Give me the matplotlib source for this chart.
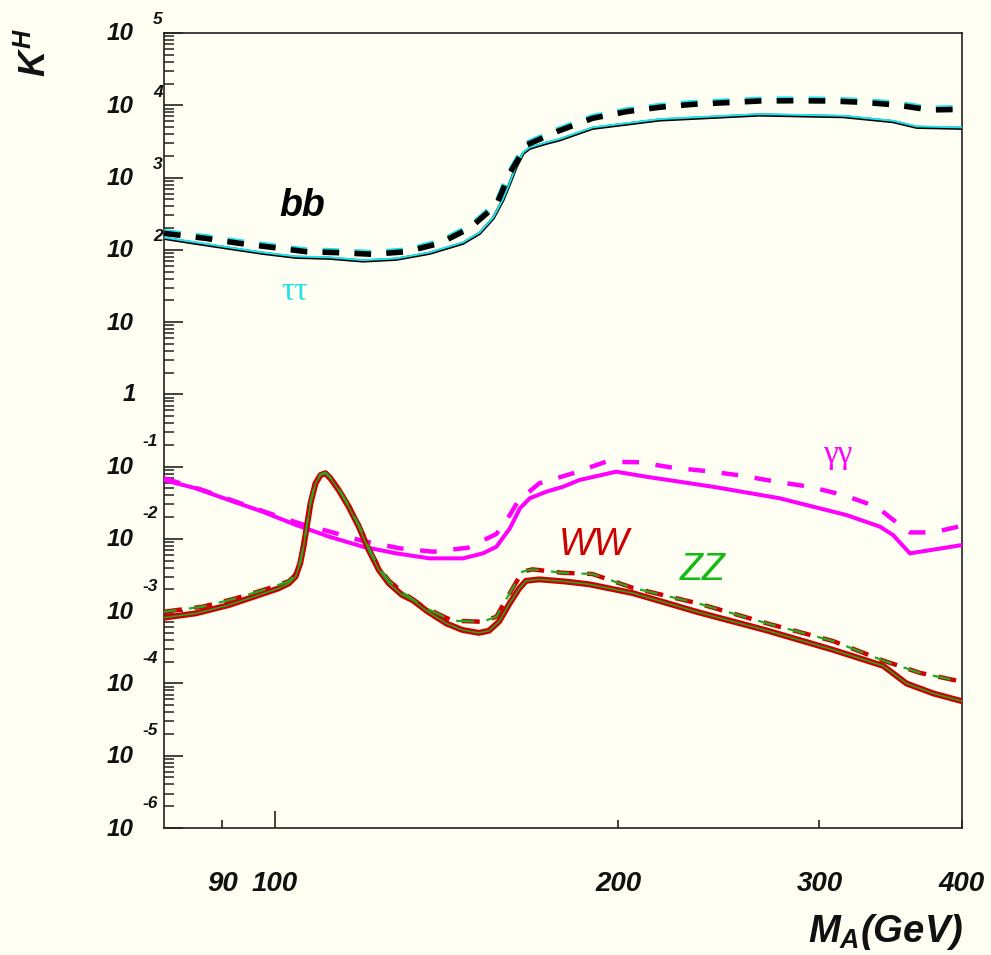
import matplotlib
matplotlib.use("Agg")
import matplotlib.pyplot as plt
from matplotlib.ticker import FixedLocator, FixedFormatter, LogLocator, NullFormatter

plt.rcParams['font.family'] = ['Liberation Sans', 'DejaVu Sans']
plt.rcParams['lines.scale_dashes'] = False
plt.rcParams['lines.solid_joinstyle'] = 'round'
plt.rcParams['lines.dash_joinstyle'] = 'round'
plt.rcParams['mathtext.fontset'] = 'custom'
plt.rcParams['mathtext.it'] = 'Liberation Sans:italic:bold'
plt.rcParams['mathtext.rm'] = 'Liberation Sans:italic:bold'
plt.rcParams['mathtext.bf'] = 'Liberation Sans:italic:bold'

# ---------------- data ----------------
# bb / tau tau, solid
mA_bb = [80, 85.3, 91.2, 97.6, 104.4, 111.7, 119.5, 127.8, 136.7, 146.2, 151.2, 155.4,
         158.5, 160.7, 162.8, 165.1, 167.3, 173.0, 177.5, 189.9, 217.3, 265.9, 314.8,
         348.1, 365.0, 400]
k_bb = [144, 123, 105, 89.5, 78.7, 76.4, 70.0, 74.0, 89.5, 123, 169, 273,
        489, 832, 1413, 2168, 2541, 2979, 3304, 4797, 6252, 7328, 6950,
        5929, 4955, 4797]
k_tautau = [148, 127, 108, 92, 81, 78.7, 72, 76, 92, 127, 174, 281,
            504, 857, 1455, 2233, 2617, 3068, 3403, 4941, 6440, 7548, 7158,
            6107, 5104, 4941]
# bb / tau tau, dashed
mA_bb_d = [80, 87.0, 93.1, 99.6, 106.5, 114.0, 121.9, 130.4, 139.5, 148.2, 156.4, 160.7,
           166.2, 177.0, 189.9, 203.2, 217.3, 232.4, 248.6, 265.9, 286.4, 306.3, 327.6,
           350.5, 374.9, 400]
k_bb_d = [169, 144, 123, 108, 94.2, 91.2, 86.7, 94.2, 123, 199, 417, 1146,
          2818, 4365, 6607, 8147, 9376, 10300, 10860, 11460, 11560, 11460, 10990,
          10090, 8610, 8790]
k_tautau_d = [177, 151, 129, 113, 98.6, 95.5, 90.8, 98.6, 129, 208, 437, 1200,
              2951, 4571, 6918, 8531, 9817, 10790, 11370, 12000, 12100, 12000, 11510,
              10570, 9016, 9204]

# gamma gamma
mA_gg = [80, 85.3, 91.2, 97.6, 104.4, 111.7, 119.5, 127.8, 136.7, 146.2, 152.2, 156.4,
         160.7, 164.0, 167.3, 173.0, 178.9, 184.9, 199.1, 211.5, 242.0, 276.9, 316.8,
         338.9, 348.1, 360.1, 400]
k_gg = [0.0653, 0.0501, 0.0345, 0.0238, 0.0156, 0.0107, 0.00780, 0.00631, 0.00538,
        0.00538, 0.00631, 0.00780, 0.0140, 0.0265, 0.0365, 0.0450, 0.0527, 0.0653,
        0.0851, 0.0726, 0.0527, 0.0365, 0.0214, 0.0148, 0.0113, 0.00631, 0.00822]
mA_gg_d = [80, 86.5, 92.5, 98.9, 105.1, 112.4, 119.5, 128.7, 137.6, 147.7, 156.4, 160.7,
           163.5, 170.5, 182.4, 195.1, 208.7, 223.3, 238.8, 257.1, 275.0, 294.2, 314.8,
           336.6, 352.8, 360.1, 377.5, 400]
k_gg_d = [0.0689, 0.0474, 0.0327, 0.0226, 0.0164, 0.0123, 0.00935, 0.00741, 0.00665,
          0.00755, 0.0117, 0.0214, 0.0339, 0.0587, 0.0807, 0.117, 0.115, 0.0966, 0.0869,
          0.0748, 0.0618, 0.0527, 0.0405, 0.0279, 0.0156, 0.0123, 0.0123, 0.0152]

# WW / ZZ, solid
mA_vv = [80, 85.3, 91.2, 98.8, 100.8, 102.9, 104.3, 105.3, 106.0, 106.7, 107.5, 108.6,
         109.7, 110.8, 111.9, 113.8, 116.1, 118.5, 120.9, 123.4, 125.9, 129.3, 132.2,
         136.0, 141.4, 146.0, 151.0, 154.1, 157.3, 160.5, 163.7, 166.0, 170.5, 179.9,
         188.6, 205.9, 235.6, 269.6, 308.4, 341.2, 357.7, 377.5, 400]
k_ww = [8.13e-4, 9.33e-4, 1.216e-3, 1.858e-3, 2.070e-3, 2.427e-3, 2.999e-3, 4.592e-3,
        7.80e-3, 0.01476, 0.03105, 0.05875, 0.0766, 0.0807, 0.0689, 0.0474, 0.0279,
        0.01476, 7.01e-3, 3.71e-3, 2.427e-3, 1.675e-3, 1.41e-3, 1.0e-3, 6.76e-4,
        5.50e-4, 5.01e-4, 5.37e-4, 7.24e-4, 1.259e-3, 2.042e-3, 2.63e-3, 2.754e-3,
        2.57e-3, 2.355e-3, 1.778e-3, 9.55e-4, 5.43e-4, 2.917e-4, 1.754e-4, 9.98e-5,
        7.28e-5, 5.68e-5]
k_zz = [8.13e-4, 9.33e-4, 1.216e-3, 1.858e-3, 2.070e-3, 2.427e-3, 2.999e-3, 4.592e-3,
        7.80e-3, 0.01476, 0.03105, 0.05875, 0.0766, 0.0807, 0.0689, 0.0474, 0.0279,
        0.01476, 7.01e-3, 3.71e-3, 2.427e-3, 1.675e-3, 1.41e-3, 1.0e-3, 6.76e-4,
        5.50e-4, 5.01e-4, 5.37e-4, 7.24e-4, 1.259e-3, 2.042e-3, 2.63e-3, 2.754e-3,
        2.57e-3, 2.355e-3, 1.778e-3, 9.55e-4, 5.43e-4, 2.917e-4, 1.754e-4, 9.98e-5,
        7.28e-5, 5.68e-5]
# WW / ZZ, dashed
mA_vv_d = [80, 86.5, 92.5, 98.8, 102.9, 104.3, 105.3, 106.0, 106.7, 107.5, 108.6, 109.7,
           110.8, 111.9, 113.8, 116.1, 118.5, 120.9, 123.4, 125.9, 129.3, 134.9, 143.1,
           152.0, 156.4, 159.4, 164.8, 168.2, 178.7, 189.8, 205.9, 235.6, 269.6, 308.4,
           341.2, 367.5, 400]
k_ww_d = [9.82e-4, 1.153e-3, 1.507e-3, 2.07e-3, 2.6e-3, 3.2e-3, 4.8e-3, 8.1e-3, 0.0153,
          0.0322, 0.0605, 0.0785, 0.0825, 0.0705, 0.0488, 0.0290, 0.0155, 7.5e-3, 4.0e-3,
          2.65e-3, 1.85e-3, 1.153e-3, 7.38e-4, 7.14e-4, 8.38e-4, 1.426e-3, 3.52e-3,
          3.79e-3, 3.40e-3, 3.27e-3, 2.104e-3, 1.265e-3, 6.82e-4, 3.86e-4, 2.075e-4,
          1.40e-4, 1.057e-4]
k_zz_d = [9.82e-4, 1.153e-3, 1.507e-3, 2.07e-3, 2.6e-3, 3.2e-3, 4.8e-3, 8.1e-3, 0.0153,
          0.0322, 0.0605, 0.0785, 0.0825, 0.0705, 0.0488, 0.0290, 0.0155, 7.5e-3, 4.0e-3,
          2.65e-3, 1.85e-3, 1.153e-3, 7.38e-4, 7.14e-4, 8.38e-4, 1.426e-3, 3.52e-3,
          3.79e-3, 3.40e-3, 3.27e-3, 2.104e-3, 1.265e-3, 6.82e-4, 3.86e-4, 2.075e-4,
          1.40e-4, 1.057e-4]

x_ticks_major = [100]
x_labels_major = ['100']
x_ticks_minor = [90, 200, 300, 400]
x_labels_minor = ['90', '200', '300', '400']
y_exponents = [5, 4, 3, 2, 1, 0, -1, -2, -3, -4, -5, -6]

# ---------------- figure ----------------
W, H = 991, 955
BG = '#fffef2'
fig = plt.figure(figsize=(W / 100, H / 100), dpi=100, facecolor=BG)
ax = fig.add_axes([164 / W, 1 - 828 / H, (962 - 164) / W, (828 - 33) / H], facecolor=BG)
ax.set_xscale('log')
ax.set_yscale('log')
ax.set_xlim(80, 400)
ax.set_ylim(1e-6, 1e5)

red = '#cc0000'
green = '#22aa22'
cyan = '#22e2ea'
mag = '#ff00ff'

# bb / tautau
ax.plot(mA_bb, k_bb, color='black', lw=2.3, zorder=3)
ax.plot(mA_bb, k_tautau, color=cyan, lw=1.4, zorder=4)
ax.plot(mA_bb_d, k_tautau_d, color=cyan, lw=4.3, linestyle=(0, (12, 11)), zorder=3)
ax.plot(mA_bb_d, k_bb_d, color='black', lw=4.0, linestyle=(0, (12, 11)), zorder=4)

# gamma gamma
ax.plot(mA_gg, k_gg, color=mag, lw=2.9, zorder=3)
ax.plot(mA_gg_d, k_gg_d, color=mag, lw=3.2, linestyle=(0, (12, 12)), zorder=3)

# WW / ZZ
ax.plot(mA_vv, k_ww, color=red, lw=4.3, zorder=3)
ax.plot(mA_vv, k_zz, color=green, lw=1.1, zorder=4)
ax.plot(mA_vv_d, k_ww_d, color=red, lw=3.2, linestyle=(0, (13, 9)), zorder=3)
ax.plot(mA_vv_d, k_zz_d, color=green, lw=1.6, linestyle=(4, (13, 9)), zorder=4)

# spines
for s in ax.spines.values():
    s.set_linewidth(1.2)
    s.set_color('#222222')

# y ticks
ax.yaxis.set_major_locator(LogLocator(base=10, numticks=20))
ax.yaxis.set_minor_locator(LogLocator(base=10, subs=[2, 3, 4, 5, 6, 7, 8, 9], numticks=20))
ax.yaxis.set_minor_formatter(NullFormatter())
ax.tick_params(axis='y', which='major', direction='in', length=13.5, width=1.2,
               color='#222222', labelleft=False)
ax.tick_params(axis='y', which='minor', direction='in', length=7.0, width=1.1,
               color='#222222')

# x ticks
ax.xaxis.set_major_locator(FixedLocator(x_ticks_major))
ax.xaxis.set_major_formatter(FixedFormatter(x_labels_major))
ax.xaxis.set_minor_locator(FixedLocator(x_ticks_minor))
ax.xaxis.set_minor_formatter(FixedFormatter(x_labels_minor))
ax.tick_params(axis='x', which='major', direction='in', length=12.2, width=1.2,
               color='#222222', pad=31, labelsize=20)
ax.tick_params(axis='x', which='minor', direction='in', length=5.8, width=1.2,
               color='#222222', pad=31, labelsize=20)
for lab in ax.get_xticklabels(which='both'):
    lab.set_fontweight('bold')
    lab.set_fontstyle('italic')
    lab.set_color('#111111')

# y tick labels in ROOT style: "10" centred on the tick, exponent above
for e in y_exponents:
    val = 10.0 ** e
    if e == 0:
        ax.annotate('1', xy=(0, val), xycoords=('axes fraction', 'data'),
                    xytext=(-28, 0), textcoords='offset pixels', ha='right', va='center',
                    fontsize=17.5, fontweight='bold', fontstyle='italic', color='#111111')
        continue
    ax.annotate('10', xy=(0, val), xycoords=('axes fraction', 'data'),
                xytext=(-30, -1), textcoords='offset pixels', ha='right', va='center',
                fontsize=17.5, fontweight='bold', fontstyle='italic', color='#111111')
    if e == 1:
        continue
    dy = 13 if e > 0 else 25
    ax.annotate(str(e), xy=(0, val), xycoords=('axes fraction', 'data'),
                xytext=(-11 if e > 0 else -21, dy), textcoords='offset pixels',
                ha='left', va='center', fontsize=12.5, fontweight='bold',
                fontstyle='italic', color='#111111')

# curve labels
def fx(px):
    return px / W

def fy(py):
    return 1 - py / H

fig.text(fx(302), fy(206), 'bb', fontsize=27, fontweight='bold', fontstyle='italic',
         ha='center', va='center', color='black')
fig.text(fx(295), fy(292), 'ττ', fontsize=24, family='Liberation Serif',
         ha='center', va='center', color=cyan)
fig.text(fx(838), fy(455), 'γγ', fontsize=24, family='Liberation Serif',
         ha='center', va='center', color=mag)
fig.text(fx(594), fy(545), 'WW', fontsize=27, fontstyle='italic',
         ha='center', va='center', color=red)
fig.text(fx(703), fy(570), 'ZZ', fontsize=27, fontstyle='italic',
         ha='center', va='center', color='#11bb11')

# axis titles
fig.text(fx(36), fy(52), r'$K^{H}$', fontsize=26, rotation=90,
         ha='center', va='center', color='#111111')
fig.text(fx(963), fy(932), r'$M_{A}(GeV)$', fontsize=27.5,
         ha='right', va='center', color='#111111')

fig.savefig('out.png', dpi=100, facecolor=BG)
